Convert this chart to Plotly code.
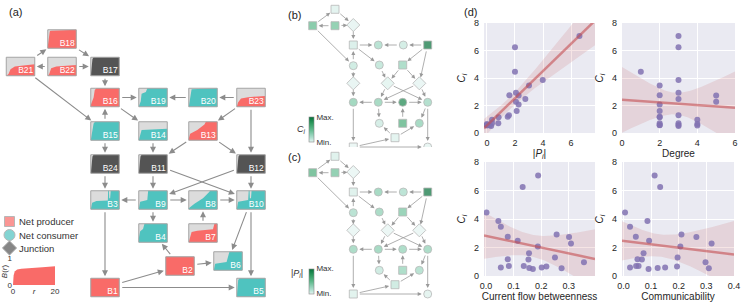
import numpy as np
import plotly.graph_objects as go

W, H = 747, 302
FONT = "Liberation Sans, Arial, sans-serif"

# ---------------- data ----------------
node_names = [f"B{i}" for i in range(1, 25)]
# P = net producer, C = net consumer, J = junction   (B1 ... B24)
node_type = ["P", "P", "C", "C", "C", "C", "P", "C", "C", "C", "J", "J",
             "P", "C", "C", "P", "J", "P", "C", "C", "P", "P", "P", "J"]
edges = [(21, 18), (18, 17), (22, 21), (22, 17), (17, 16), (21, 15), (15, 16),
         (16, 19), (20, 19), (23, 20), (16, 14), (23, 13), (23, 12), (15, 24),
         (14, 11), (13, 11), (13, 12), (24, 3), (11, 9), (11, 10), (12, 9),
         (12, 10), (9, 3), (9, 8), (8, 10), (9, 4), (7, 8), (2, 4), (2, 6),
         (10, 6), (10, 5), (3, 1), (1, 2), (1, 5)]

# network layout, panel (a) (px units) and panels (b)/(c)
a_x = [105, 180, 105, 153, 251, 228, 203, 203, 153, 251, 153, 251,
       203, 153, 105, 105, 105, 62, 153, 203, 20.5, 62, 251, 105]
a_y = [287.5, 266, 200, 233, 287.5, 261, 233, 200, 200, 200, 164, 164,
       131, 131, 131, 97.5, 66.5, 39, 97.5, 97.5, 66.5, 66.5, 97.5, 164]
bc_x = [73.3, 115, 73.3, 99.3, 147.7, 139.3, 122.7, 122.7, 98.3, 147.7, 107.7, 139.3,
        122.7, 99.3, 73.3, 73.3, 73.3, 55, 98.3, 123.3, 32.7, 55, 147.7, 73.3]
bc_y = [147, 137.7, 102.3, 123.3, 147, 123.3, 123.3, 102.3, 102.3, 102.3, 83.3, 83.3,
        65, 65, 65.7, 45, 25, 9.3, 45, 45, 25.7, 25.7, 45, 83.3]

# node measures
C_vals = [0.50, 0.71, 2.92, 1.15, 0.56, 2.75, 4.45, 6.24, 2.73, 2.28, 0.66, 0.54,
          2.47, 1.60, 1.29, 0.97, 0.59, 0.71, 2.07, 1.18, 3.86, 3.46, 7.06, 0.59]
P_vals = [0.30, 0.81, 2.07, 0.83, 0.20, 1.60, 2.00, 2.00, 2.26, 2.07, 0.0, 0.0,
          2.74, 2.12, 1.57, 0.36, 0.0, 0.36, 2.26, 1.48, 3.98, 3.00, 6.60, 0.0]
cfb_vals = [0.170, 0.083, 0.256, 0.154, 0.157, 0.079, 0.002, 0.133, 0.301, 0.308, 0.219, 0.274,
            0.115, 0.156, 0.250, 0.355, 0.202, 0.137, 0.188, 0.079, 0.045, 0.054, 0.189, 0.054]
comm_vals = [0.091, 0.046, 0.210, 0.067, 0.124, 0.045, 0.006, 0.133, 0.264, 0.319, 0.194, 0.309,
             0.093, 0.073, 0.196, 0.297, 0.151, 0.055, 0.206, 0.051, 0.087, 0.024, 0.113, 0.024]

# B(r) curves shown inside each box (fraction of r range, B value)
box_profiles = {
    1: [(0, 1), (1, 1)],
    2: [(0, 1), (1, 1)],
    3: [(0, 0), (0.05, 0.35), (0.2, 0.45), (0.6, 0.47), (0.61, 1), (0.64, 1), (0.65, 0.6), (0.68, 0.6), (0.7, 1), (1, 1)],
    4: [(0, 0.2), (0.05, 0.6), (0.15, 0.72), (0.2, 1), (1, 1)],
    5: [(0, 0), (0.05, 0.9), (0.1, 1), (1, 1)],
    6: [(0, 0), (0.05, 0.35), (0.45, 0.45), (0.5, 0.7), (0.55, 1), (1, 1)],
    7: [(0, 0), (0.05, 0.3), (0.1, 0.55), (0.3, 0.62), (0.85, 0.7), (0.9, 1), (1, 1)],
    8: [(0, 0.05), (0.2, 0.3), (0.5, 0.6), (0.7, 0.9), (0.75, 1), (1, 1)],
    9: [(0, 0), (0.05, 0.4), (0.3, 0.5), (0.33, 1), (1, 1)],
    10: [(0, 0), (0.05, 0.4), (0.4, 0.5), (0.42, 1), (0.45, 1), (0.46, 0.6), (0.5, 0.6), (0.52, 1), (1, 1)],
    11: [(0, 0), (0.06, 0.9), (0.1, 1), (1, 1)],
    12: [(0, 0), (0.06, 0.9), (0.1, 1), (1, 1)],
    13: [(0, 0.1), (0.05, 0.35), (0.3, 0.55), (0.55, 0.85), (0.6, 1), (1, 1)],
    14: [(0, 0), (0.05, 0.3), (0.1, 0.55), (1, 0.62)],
    15: [(0, 0), (0.07, 0.5), (0.1, 0.9), (0.15, 1), (1, 1)],
    16: [(0, 0.1), (0.1, 0.5), (0.14, 0.9), (0.2, 1), (1, 1)],
    17: [(0, 0), (0.06, 0.9), (0.1, 1), (1, 1)],
    18: [(0, 0.1), (0.07, 0.9), (0.1, 0.95), (1, 1)],
    19: [(0, 0), (0.07, 0.3), (0.1, 0.7), (0.25, 0.8), (0.3, 1), (1, 1)],
    20: [(0, 0), (0.06, 0.6), (0.1, 0.95), (1, 1)],
    21: [(0, 0), (0.08, 0.1), (0.15, 0.35), (0.3, 0.5), (0.6, 0.56), (1, 0.62)],
    22: [(0, 0), (0.05, 0.1), (0.12, 0.4), (0.3, 0.5), (1, 0.58)],
    23: [(0, 0), (0.05, 0.25), (0.15, 0.45), (0.4, 0.52), (1, 0.58)],
    24: [(0, 0), (0.06, 0.9), (0.1, 1), (1, 1)],
}

# example B(r) curve for legend inset
r_example = [0, 0.3, 0.8, 2, 4, 8, 14, 20]
B_example = [0, 0.35, 0.5, 0.57, 0.6, 0.63, 0.66, 0.69]

legend_labels = ["Net producer", "Net consumer", "Junction"]

# ---------------- styles ----------------
RED = "#f96b68"
TEAL = "#4fc3bf"
DARK = "#545454"
BOXBG = "#dcdcdc"
type_color = {"P": RED, "C": TEAL, "J": DARK}
type_symbol = {"P": "square", "C": "circle", "J": "diamond"}
type_size = {"P": 8, "C": 8, "J": 10}
GREENS = [[0, "#e4f4f1"], [0.15, "#b5e2d3"], [0.3, "#8fd1b6"], [0.5, "#5db98b"],
          [0.75, "#2e9a5e"], [1, "#05703a"]]
HW, HH = 14.25, 9.25

degree = [0] * 24
for s, t in edges:
    degree[s - 1] += 1
    degree[t - 1] += 1

fig = go.Figure()
shapes = []
annotations = []


def px_x(p):
    return p / W


def px_y(p):
    return 1 - p / H


# ---------------- panel (a) ----------------
poly = {"P": ([], []), "C": ([], []), "J": ([], [])}
for i in range(24):
    cx, cy = a_x[i], a_y[i]
    l, r, t, b = cx - HW, cx + HW, cy - HH, cy + HH
    shapes.append(dict(type="rect", xref="x", yref="y", x0=l, x1=r, y0=t, y1=b,
                       fillcolor=BOXBG, line=dict(width=0), layer="below"))
    shapes.append(dict(type="rect", xref="x", yref="y", x0=l, x1=r, y0=t, y1=b,
                       fillcolor="rgba(0,0,0,0)", line=dict(color="#a4a4a4", width=1), layer="above"))
    xs, ys = poly[node_type[i]]
    xs.append(l); ys.append(b)
    for fx, fy in box_profiles[i + 1]:
        xs.append(l + fx * 2 * HW)
        ys.append(b - fy * 2 * HH)
    xs += [r, None]
    ys += [b, None]
for k, (xs, ys) in poly.items():
    fig.add_trace(go.Scatter(x=xs, y=ys, mode="lines", fill="toself", fillcolor=type_color[k],
                             line=dict(width=0), hoverinfo="skip", showlegend=False,
                             xaxis="x", yaxis="y"))
fig.add_trace(go.Scatter(x=[a_x[i] + HW - 1.5 for i in range(24)],
                         y=[a_y[i] + HH - 0.5 for i in range(24)],
                         text=node_names, mode="text", textposition="top left",
                         textfont=dict(family=FONT, size=8.5, color="white"),
                         hoverinfo="skip", showlegend=False, xaxis="x", yaxis="y"))


def rect_exit(ux, uy):
    tx = HW / abs(ux) if abs(ux) > 1e-9 else 1e9
    ty = HH / abs(uy) if abs(uy) > 1e-9 else 1e9
    return min(tx, ty)


for s, t in edges:
    sx, sy, tx, ty = a_x[s - 1], a_y[s - 1], a_x[t - 1], a_y[t - 1]
    dx, dy = tx - sx, ty - sy
    L = np.hypot(dx, dy)
    ux, uy = dx / L, dy / L
    d = rect_exit(ux, uy)
    annotations.append(dict(x=tx - ux * (d + 2), y=ty - uy * (d + 2),
                            ax=sx + ux * (d + 1.5), ay=sy + uy * (d + 1.5),
                            xref="x", yref="y", axref="x", ayref="y", text="",
                            showarrow=True, arrowhead=2, arrowsize=1.1, arrowwidth=1.1,
                            arrowcolor="#8c8c8c"))

# legend of panel (a)
leg_y = [221.5, 235, 248]
fig.add_trace(go.Scatter(x=[9.5, 9.5, 9.5], y=leg_y, mode="markers",
                         marker=dict(symbol=["square", "circle", "diamond"], size=[10, 11, 11],
                                     color=[RED, TEAL, DARK], line=dict(color="#9a9a9a", width=1)),
                         hoverinfo="skip", showlegend=False, xaxis="x", yaxis="y"))
for yy, lab in zip(leg_y, legend_labels):
    annotations.append(dict(x=16.5, y=yy, xref="x", yref="y", text=lab, showarrow=False,
                            xanchor="left", yanchor="middle",
                            font=dict(family=FONT, size=9.5, color="#333333")))

# inset B(r)
fig.add_trace(go.Scatter(x=r_example, y=B_example, mode="lines", fill="tozeroy", fillcolor=RED,
                         line=dict(width=0, color=RED), hoverinfo="skip", showlegend=False,
                         xaxis="x4", yaxis="y4"))
shapes.append(dict(type="rect", xref="x4 domain", yref="y4 domain", x0=0, x1=1, y0=0, y1=1,
                   fillcolor=BOXBG, line=dict(width=0), layer="below"))

# ---------------- panels (b) and (c) ----------------
for vals, xa, ya, cb_y, lab, lab_x in [(C_vals, "x2", "y2", 129.5, "<i>C</i><sub><i>i</i></sub>", 301),
                                       (P_vals, "x3", "y3", 281, "|<i>P</i><sub><i>i</i></sub>|", 297)]:
    for s, t in edges:
        sx, sy, tx, ty = bc_x[s - 1], bc_y[s - 1], bc_x[t - 1], bc_y[t - 1]
        dx, dy = tx - sx, ty - sy
        L = np.hypot(dx, dy)
        ux, uy = dx / L, dy / L
        annotations.append(dict(x=tx - ux * 6, y=ty - uy * 6, ax=sx + ux * 5, ay=sy + uy * 5,
                                xref=xa, yref=ya, axref=xa, ayref=ya, text="",
                                showarrow=True, arrowhead=2, arrowsize=1.0, arrowwidth=0.8,
                                arrowcolor="#9a9a9a"))
    fig.add_trace(go.Scatter(
        x=bc_x, y=bc_y, mode="markers", xaxis=xa, yaxis=ya, hoverinfo="skip", showlegend=False,
        cliponaxis=False,
        marker=dict(symbol=[type_symbol[k] for k in node_type], size=[type_size[k] for k in node_type],
                    color=vals, colorscale=GREENS, cmin=min(vals), cmax=max(vals),
                    line=dict(color="#9a9a9a", width=0.8), showscale=True,
                    colorbar=dict(x=px_x(309), xanchor="left", y=px_y(cb_y), yanchor="middle",
                                  len=25, lenmode="pixels", thickness=5, xpad=0, ypad=0,
                                  outlinewidth=0.6, outlinecolor="#888",
                                  tickvals=[min(vals), max(vals)], ticktext=["Min.", "Max."],
                                  ticks="", tickfont=dict(family=FONT, size=8, color="#333")))))
    annotations.append(dict(x=px_x(lab_x), y=px_y(cb_y), xref="paper", yref="paper", text=lab,
                            showarrow=False, font=dict(family=FONT, size=9, color="#333")))

# ---------------- panel (d) ----------------
d_panels = [
    (P_vals, "x5", "y5", [-0.21, 7.71], [0, 2, 4, 6], ["0", "2", "4", "6"], "|<i>P</i><sub><i>i</i></sub>|"),
    (degree, "x6", "y6", [0, 6], [0, 2, 4, 6], ["0", "2", "4", "6"], "Degree"),
    (cfb_vals, "x7", "y7", [-0.007, 0.395], [0, 0.1, 0.2, 0.3], ["0.0", "0.1", "0.2", "0.3"], "Current flow betweenness"),
    (comm_vals, "x8", "y8", [-0.005, 0.4], [0, 0.1, 0.2, 0.3, 0.4], ["0.0", "0.1", "0.2", "0.3", "0.4"], "Communicability"),
]
yv = np.array(C_vals)
n = len(yv)
tcrit = 2.074
for xv, xa, ya, rng, tv, tt, title in d_panels:
    xv = np.array(xv, dtype=float)
    b1, b0 = np.polyfit(xv, yv, 1)
    resid = yv - (b0 + b1 * xv)
    s = np.sqrt(np.sum(resid ** 2) / (n - 2))
    xm = xv.mean()
    sxx = np.sum((xv - xm) ** 2)
    xg = np.linspace(rng[0], rng[1], 120)
    yh = b0 + b1 * xg
    se = s * np.sqrt(1 / n + (xg - xm) ** 2 / sxx)
    up, lo = yh + tcrit * se, yh - tcrit * se
    fig.add_trace(go.Scatter(x=np.concatenate([xg, xg[::-1]]), y=np.concatenate([up, lo[::-1]]),
                             mode="lines", fill="toself", fillcolor="rgba(196,78,82,0.15)",
                             line=dict(width=0), hoverinfo="skip", showlegend=False, xaxis=xa, yaxis=ya))
    fig.add_trace(go.Scatter(x=xv, y=yv, mode="markers", xaxis=xa, yaxis=ya, hoverinfo="skip",
                             showlegend=False, marker=dict(size=6, color="rgba(129,114,178,0.85)")))
    fig.add_trace(go.Scatter(x=xg, y=yh, mode="lines", xaxis=xa, yaxis=ya, hoverinfo="skip",
                             showlegend=False, line=dict(color="rgba(196,78,82,0.6)", width=2.5)))
    shapes.append(dict(type="rect", xref=f"{xa} domain", yref=f"{ya} domain", x0=0, x1=1, y0=0, y1=1,
                       fillcolor="#eaeaf2", line=dict(width=0), layer="below"))

# panel labels
for lab, x, y in [("(a)", 7, 12), ("(b)", 286, 15), ("(c)", 286, 157), ("(d)", 462, 12)]:
    annotations.append(dict(x=px_x(x), y=px_y(y), xref="paper", yref="paper", text=lab,
                            showarrow=False, xanchor="left", yanchor="middle",
                            font=dict(family=FONT, size=11, color="#222")))

hidden = dict(visible=False, showgrid=False, zeroline=False)
d_axis = dict(showgrid=True, gridcolor="white", gridwidth=1, zeroline=False, showline=False,
              ticks="", tickfont=dict(family=FONT, size=9, color="#262626"), automargin=False)


def dax(dom, rng, tv, tt, title=None, anchor=None, ytitle=False):
    ax = dict(d_axis, domain=dom, range=rng, tickvals=tv, ticktext=tt, anchor=anchor,
              ticklabelstandoff=4 if ytitle else 3)
    if title:
        ax["title"] = dict(text=title, font=dict(family=FONT, size=10, color="#262626"),
                           standoff=6 if ytitle else 2)
    return ax


ytv = [0, 2, 4, 6, 8]
ytt = ["0", "2", "4", "6", "8"]
CI = "<i>C</i><sub><i>i</i></sub>"
layout = dict(
    width=W, height=H, autosize=False, margin=dict(l=0, r=0, t=0, b=0, pad=0, autoexpand=False),
    paper_bgcolor="white", plot_bgcolor="white", showlegend=False,
    xaxis=dict(hidden, domain=[0, 280 / W], range=[0, 280], anchor="y"),
    yaxis=dict(hidden, domain=[0, 1], range=[302, 0], anchor="x"),
    xaxis2=dict(hidden, domain=[280 / W, 450 / W], range=[0, 170], anchor="y2"),
    yaxis2=dict(hidden, domain=[px_y(150), 1], range=[150, 0], anchor="x2"),
    xaxis3=dict(hidden, domain=[280 / W, 450 / W], range=[0, 170], anchor="y3"),
    yaxis3=dict(hidden, domain=[px_y(297), px_y(147)], range=[150, 0], anchor="x3"),
    xaxis4=dict(domain=[13 / W, 55 / W], range=[0, 20], anchor="y4", tickvals=[0, 10, 20],
                ticktext=["0", "<i>r</i>", "20"], showgrid=False, zeroline=False, ticks="",
                automargin=False, tickfont=dict(family=FONT, size=8, color="#333")),
    yaxis4=dict(domain=[px_y(285), px_y(258)], range=[0, 1], anchor="x4", tickvals=[0, 1],
                ticktext=["0", "1"], showgrid=False, zeroline=False, ticks="", automargin=False,
                tickfont=dict(family=FONT, size=8, color="#333"),
                title=dict(text="<i>B</i>(<i>r</i>)", font=dict(family=FONT, size=8, color="#333"), standoff=1)),
    xaxis5=dax([484 / W, 595 / W], d_panels[0][3], d_panels[0][4], d_panels[0][5], d_panels[0][6], "y5"),
    yaxis5=dax([px_y(133), px_y(23)], [0, 8], ytv, ytt, CI, "x5", True),
    xaxis6=dax([622 / W, 735 / W], d_panels[1][3], d_panels[1][4], d_panels[1][5], d_panels[1][6], "y6"),
    yaxis6=dax([px_y(133), px_y(23)], [0, 8], ytv, ytt, CI, "x6", True),
    xaxis7=dax([484 / W, 595 / W], d_panels[2][3], d_panels[2][4], d_panels[2][5], d_panels[2][6], "y7"),
    yaxis7=dax([px_y(276), px_y(162)], [0, 8], ytv, ytt, CI, "x7", True),
    xaxis8=dax([622 / W, 734 / W], d_panels[3][3], d_panels[3][4], d_panels[3][5], d_panels[3][6], "y8"),
    yaxis8=dax([px_y(276), px_y(162)], [0, 8], ytv, ytt, CI, "x8", True),
    shapes=shapes, annotations=annotations,
    font=dict(family=FONT),
)
fig.update_layout(**layout)
fig.write_html("out.html", config={"displayModeBar": False, "staticPlot": True},
               post_script="document.body.style.margin='0';document.body.style.padding='0';")
